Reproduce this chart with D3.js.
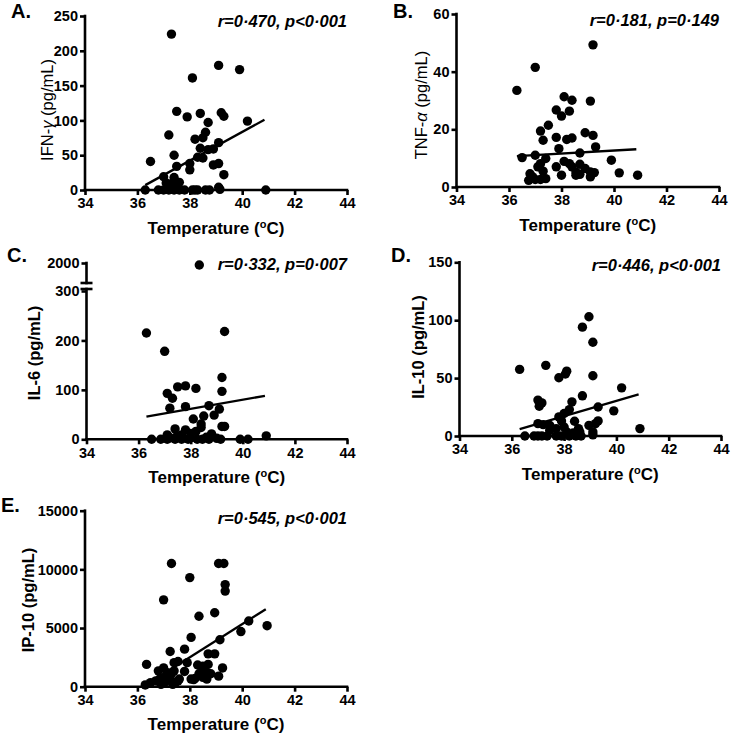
<!DOCTYPE html>
<html><head><meta charset="utf-8">
<script src="https://cdn.jsdelivr.net/npm/d3@7"></script>
<style>
body{margin:0;background:#fff}
svg{display:block}
text{font-family:"Liberation Sans",Arial,Helvetica,sans-serif;fill:#000}
</style>
</head><body>
<svg id="c" width="732" height="736"></svg>
<script>
// ---------- data ----------
const tempTicks = [34, 36, 38, 40, 42, 44];
const ifnTicks = [0, 50, 100, 150, 200, 250];
const tnfTicks = [0, 20, 40, 60];
const il6LowTicks = [0, 100, 200, 300];
const il6HighTicks = [2000];
const il10Ticks = [0, 50, 100, 150];
const ip10Ticks = [0, 5000, 10000, 15000];

// [temperature °C, concentration pg/mL]
const ifnGamma = [[37.3,224],[39.1,179],[39.9,173],[38.1,161],[37.5,113],[37.9,105],[38.4,110],[39.2,111],[39.3,106],[40.2,99],[38.7,97],[37.2,79],[38.2,73],[38.5,75],[38.6,83],[38.4,60],[38.9,59],[38.7,58],[39.1,68],[36.5,41],[37.4,50],[37.5,34],[38.0,38],[38.0,29],[38.3,47],[38.5,46],[38.9,36],[39.1,38],[39.3,22],[37.0,19],[37.4,18],[37.1,10],[37.3,9],[37.5,6],[37.2,2],[37.6,11],[36.3,0],[36.8,0],[37.0,0],[37.2,0],[37.4,0],[37.8,0],[38.1,0],[38.3,0],[38.6,0],[38.75,0],[39.15,1],[39.1,4],[40.9,0],[37.6,0],[38.2,0]];
const tnfAlpha = [[39.2,49.3],[37.0,41.5],[36.3,33.5],[38.1,31.3],[38.4,30.1],[39.1,29.8],[37.8,26.7],[38.3,26.3],[38.0,24.6],[37.5,21.4],[37.2,19.4],[38.9,18.8],[39.2,17.9],[37.8,17.2],[38.4,17.0],[38.2,16.5],[37.3,16.2],[39.3,13.9],[37.9,13.3],[36.5,10.2],[37.0,11.0],[37.4,9.9],[37.8,7.0],[38.1,8.9],[38.3,8.1],[38.7,7.9],[39.9,9.3],[40.2,4.9],[40.9,4.1],[38.4,7.0],[38.55,5.2],[38.0,4.1],[39.1,5.2],[39.1,3.5],[39.25,5.0],[37.1,7.0],[37.2,8.1],[36.8,4.6],[37.0,2.6],[37.2,2.6],[37.4,2.9],[36.75,2.3],[36.9,3.5],[38.55,4.1],[38.7,4.4],[38.9,6.4],[37.3,5.5],[38.7,11.8]];
const il6 = [[36.3,215],[39.3,218],[37.0,178],[39.2,125],[37.8,108],[37.5,106],[38.2,103],[39.2,97],[37.1,93],[37.3,83],[37.2,63],[37.8,66],[38.7,68],[39.1,61],[38.9,49],[38.5,47],[38.1,41],[38.4,31],[37.4,21],[39.2,26],[39.3,26],[37.8,19],[38.4,24],[38.0,12],[38.2,16],[37.1,9],[37.65,9],[38.8,11],[40.9,7],[37.45,5],[36.5,0],[36.85,0],[37.1,0],[37.4,0],[37.65,0],[37.9,0],[38.25,0],[38.45,0],[38.7,0],[39.15,0],[39.9,0],[40.2,0],[38.0,3],[37.2,3],[38.6,4],[39.0,2],[38.33,1990]];
const il10 = [[38.95,103],[38.7,94],[39.1,81],[37.3,61],[36.3,57.5],[38.1,56],[38.05,53.5],[37.8,50.3],[39.1,52],[40.2,41.6],[38.7,34.7],[37.0,31],[37.15,28.6],[37.05,25.7],[38.3,29.5],[39.3,25],[39.9,21.7],[38.2,22.8],[38.0,19.4],[37.8,16.5],[37.9,13],[39.3,13],[39.2,10.7],[38.95,9.2],[38.4,12.7],[37.0,10.7],[37.2,9.8],[37.45,9.2],[40.9,6.4],[38.0,7.8],[37.7,6.4],[38.55,6.4],[37.45,4.9],[38.6,3.5],[39.1,3.5],[38.1,3.5],[38.35,2.6],[36.5,0],[36.85,0],[37.0,0],[37.15,0],[37.35,0],[37.7,0],[37.9,0],[38.2,0],[38.45,0],[38.65,0],[39.1,1]];
const ip10 = [[37.3,10500],[39.1,10500],[39.3,10500],[38.0,9300],[39.35,8700],[39.35,8150],[37.0,7400],[38.95,6300],[38.35,6000],[40.25,5600],[40.95,5200],[39.95,4700],[38.05,4200],[39.15,4000],[37.25,3000],[37.8,3200],[38.7,2800],[38.95,2800],[36.35,1900],[37.4,2050],[37.55,2150],[37.9,2050],[38.3,1850],[38.5,1750],[38.7,1900],[39.25,1600],[38.5,1500],[37.0,1600],[36.8,1350],[37.15,1200],[37.4,1350],[37.8,1300],[38.05,650],[38.2,700],[38.35,1100],[38.65,1200],[38.8,1100],[38.65,650],[39.1,900],[36.5,350],[36.7,500],[36.85,650],[37.05,400],[37.25,650],[37.45,350],[37.6,650],[37.1,950],[37.3,1100],[36.3,150],[38.15,600],[37.55,500],[36.9,200],[37.35,200],[38.5,800]];

// regression line end points [temperature, value]
const ifnFit = [[36.3,7],[40.85,101]];
const tnfFit = [[36.3,10.7],[40.85,13.1]];
const il6Fit = [[36.3,46],[40.85,88]];
const il10Fit = [[36.3,6],[40.85,36]];
const ip10Fit = [[36.3,100],[40.9,6600]];

const stats = ["r=0·470, p<0·001","r=0·181, p=0·149","r=0·332, p=0·007","r=0·446, p<0·001","r=0·545, p<0·001"];
const panelLetters = ["A.","B.","C.","D.","E."];

// ---------- layout ----------
const svg = d3.select("#c");
const AXW = 2.6, R = 4.7;

function styleAxis(sel){
  sel.select(".domain").remove();
  sel.selectAll(".tick line").attr("stroke","#000").attr("stroke-width",AXW);
  sel.selectAll(".tick text").attr("font-size",14.5).attr("font-weight","bold")
     .attr("font-family",'"Liberation Sans",Arial,sans-serif').attr("fill","#000");
}

function xTitle(g, cx, y){
  const t = g.append("text").attr("x",cx).attr("y",y).attr("text-anchor","middle")
    .attr("font-size",17).attr("font-weight","bold");
  t.append("tspan").text("Temperature (");
  t.append("tspan").attr("font-size",11).attr("dy",-6).text("o");
  t.append("tspan").attr("dy",6).text("C)");
}

function panel(o){
  const g = svg.append("g");
  const x = d3.scaleLinear().domain([34,44]).range([o.x0,o.x1]);
  const y = d3.scaleLinear().domain(o.yDomain).range([o.yb,o.yt]);

  // x axis
  const xa = g.append("g").attr("transform",`translate(0,${o.yb})`)
    .call(d3.axisBottom(x).tickValues(tempTicks).tickSize(5).tickSizeOuter(0).tickPadding(3));
  styleAxis(xa);
  g.append("line").attr("x1",o.x0).attr("x2",x(44)).attr("y1",o.yb).attr("y2",o.yb)
    .attr("stroke","#000").attr("stroke-width",AXW).attr("stroke-linecap","square");

  // y axis
  const ya = g.append("g").attr("transform",`translate(${o.x0},0)`)
    .call(d3.axisLeft(y).tickValues(o.yTicks).tickSize(5).tickSizeOuter(0).tickPadding(2).tickFormat(d3.format("d")));
  styleAxis(ya);
  if (o.yHigh){
    const yH = d3.scaleLinear().domain([1900,2000]).range([o.breakTop,o.yHighTop]);
    const yh = g.append("g").attr("transform",`translate(${o.x0},0)`)
      .call(d3.axisLeft(yH).tickValues(o.yHigh).tickSize(5).tickSizeOuter(0).tickPadding(2).tickFormat(d3.format("d")));
    styleAxis(yh);
    g.append("line").attr("x1",o.x0).attr("x2",o.x0).attr("y1",o.yb).attr("y2",o.breakBottom)
      .attr("stroke","#000").attr("stroke-width",AXW).attr("stroke-linecap","square");
    g.append("line").attr("x1",o.x0).attr("x2",o.x0).attr("y1",o.breakTop).attr("y2",o.yHighTop)
      .attr("stroke","#000").attr("stroke-width",AXW).attr("stroke-linecap","square");
    [o.breakTop,o.breakBottom].forEach(v=>{
      g.append("line").attr("x1",o.x0-6).attr("x2",o.x0+6).attr("y1",v).attr("y2",v)
        .attr("stroke","#000").attr("stroke-width",AXW);
    });
    o.yHighScale = yH;
  } else {
    g.append("line").attr("x1",o.x0).attr("x2",o.x0).attr("y1",o.yb).attr("y2",y(o.yDomain[1]))
      .attr("stroke","#000").attr("stroke-width",AXW).attr("stroke-linecap","square");
  }

  // fit line
  g.append("path").datum(o.fit)
    .attr("d", d3.line().x(d=>x(d[0])).y(d=>y(d[1])))
    .attr("stroke","#000").attr("stroke-width",2.3).attr("fill","none");

  // points
  g.selectAll("circle.pt").data(o.data).join("circle").attr("class","pt")
    .attr("cx",d=>x(d[0]))
    .attr("cy",d=> (o.yHigh && d[1]>o.yDomain[1]) ? o.yHighScale(d[1]) : y(d[1]))
    .attr("r",R).attr("fill","#000");

  // texts
  g.append("text").attr("x",o.x1).attr("y",o.statY).attr("text-anchor","end")
    .attr("font-size",16.5).attr("font-weight","bold").attr("font-style","italic").text(o.stat);
  g.append("text").attr("x",o.lx).attr("y",o.ly).attr("font-size",20).attr("font-weight","bold").text(o.letter);
  xTitle(g,(o.x0+o.x1)/2,o.yb+43.5);
  const yt = g.append("text").attr("transform",`translate(${o.ytx},${o.yty}) rotate(-90)`)
    .attr("text-anchor","middle").attr("dy","0.35em").attr("font-size",16.5)
    .attr("font-weight",o.ytBold?"bold":"normal");
  yt.append("tspan").text(o.ytitle[0]);
  yt.append("tspan").attr("font-style","italic").text(o.ytitle[1]);
  yt.append("tspan").text(o.ytitle[2]);
}

panel({letter:panelLetters[0],lx:11,ly:18,x0:85,x1:347,yb:190,yt:16,yDomain:[0,250],yTicks:ifnTicks,
  data:ifnGamma,fit:ifnFit,stat:stats[0],statY:27,ytitle:["IFN-","γ"," (pg/mL)"],ytBold:false,ytx:47,yty:110});
panel({letter:panelLetters[1],lx:393,ly:18,x0:456.5,x1:719,yb:187,yt:14,yDomain:[0,60],yTicks:tnfTicks,
  data:tnfAlpha,fit:tnfFit,stat:stats[1],statY:26,ytitle:["TNF-","α"," (pg/mL)"],ytBold:false,ytx:421,yty:105});
panel({letter:panelLetters[2],lx:7,ly:262,x0:86.5,x1:347,yb:439.3,yt:291,yDomain:[0,300],yTicks:il6LowTicks,
  yHigh:il6HighTicks,yHighTop:263,breakTop:283,breakBottom:289,
  data:il6,fit:il6Fit,stat:stats[2],statY:270,ytitle:["IL-6","",  " (pg/mL)"],ytBold:true,ytx:34,yty:353});
panel({letter:panelLetters[3],lx:391,ly:262,x0:459.5,x1:721,yb:436,yt:262.3,yDomain:[0,150],yTicks:il10Ticks,
  data:il10,fit:il10Fit,stat:stats[3],statY:271,ytitle:["IL-10","", " (pg/mL)"],ytBold:true,ytx:418.5,yty:347});
panel({letter:panelLetters[4],lx:1,ly:512,x0:85,x1:347,yb:686.7,yt:510.7,yDomain:[0,15000],yTicks:ip10Ticks,
  data:ip10,fit:ip10Fit,stat:stats[4],statY:524,ytitle:["IP-10","", " (pg/mL)"],ytBold:true,ytx:28,yty:600});
</script>
</body></html>
